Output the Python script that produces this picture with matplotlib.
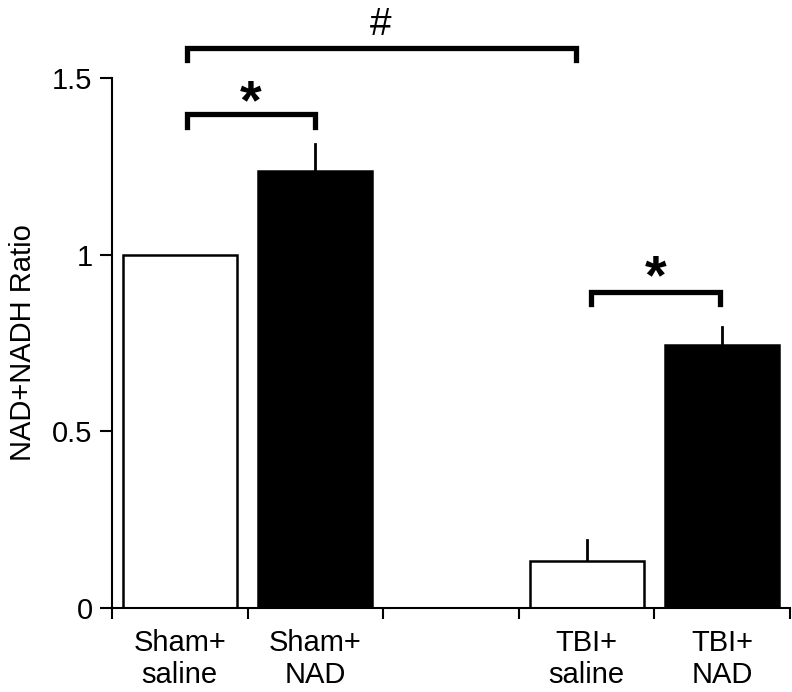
import matplotlib
matplotlib.use("Agg")
import matplotlib.pyplot as plt

# groups and values
groups = ["Sham+\nsaline", "Sham+\nNAD", "", "TBI+\nsaline", "TBI+\nNAD"]
ratios = [1.0, 1.238, 0.0, 0.133, 0.745]
errors = [0.0, 0.076, 0.0, 0.060, 0.051]
fills = ["white", "black", "white", "white", "black"]
drawn = [True, True, False, True, True]

# significance brackets: (x start, x end, y, mark, mark y)
brackets = [(0.05, 2.92, 1.586, "#", 1.65),
            (0.05, 1.0, 1.397, "*", 1.462),
            (3.03, 3.985, 0.895, "*", 0.966)]

plt.rcParams["font.family"] = ["Liberation Sans", "DejaVu Sans"]

fig = plt.figure(figsize=(7.92, 6.92), dpi=100)
ax = fig.add_axes([0.1414, 0.1214, 0.856, 0.7659])

for i in range(len(groups)):
    if not drawn[i]:
        continue
    ax.bar(i, ratios[i], width=0.84, color=fills[i], edgecolor="black", linewidth=1.8, zorder=2)
    if errors[i] > 0:
        ax.plot([i, i], [ratios[i], ratios[i] + errors[i]], color="black", lw=2, zorder=1)

for x0, x1, y, mark, ym in brackets:
    drop = 0.035
    ax.plot([x0, x0, x1, x1], [y - drop, y, y, y - drop], color="black", lw=3.8,
            solid_joinstyle="miter", clip_on=False)
    if mark == "#":
        ax.text((x0 + x1) / 2, ym, mark, ha="center", va="center", fontsize=28)
    else:
        ax.text((x0 + x1) / 2, ym - 0.035, mark, ha="center", va="center", fontsize=40, fontweight="bold")

ax.set_xlim(-0.5, 4.5)
ax.set_ylim(0, 1.5)
ax.set_yticks([0, 0.5, 1, 1.5])
ax.set_yticklabels(["0", "0.5", "1", "1.5"])
ax.set_xticks(range(len(groups)))
ax.set_xticklabels(groups, linespacing=1.2)
ax.set_xticks([i - 0.5 for i in range(len(groups) + 1)], minor=True)
ax.tick_params(axis="x", which="major", length=0, labelsize=21, pad=15)
ax.tick_params(axis="x", which="minor", length=8, width=1.5, direction="out")
ax.tick_params(axis="y", length=9, width=1.5, labelsize=21, pad=5)
ax.set_ylabel("NAD+NADH Ratio", fontsize=21, labelpad=11)

for side in ["top", "right"]:
    ax.spines[side].set_visible(False)
for side in ["left", "bottom"]:
    ax.spines[side].set_linewidth(1.5)

fig.savefig("out.png", dpi=100)
